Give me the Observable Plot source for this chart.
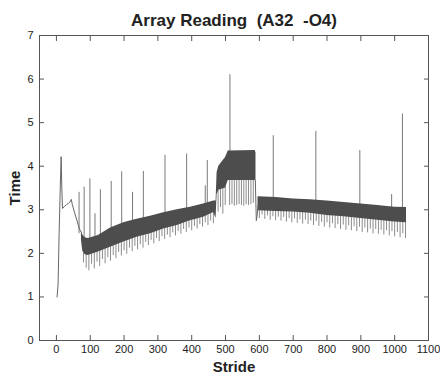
<!DOCTYPE html>
<html><head><meta charset="utf-8">
<script src="https://cdn.jsdelivr.net/npm/d3@7"></script>
<script src="https://cdn.jsdelivr.net/npm/@observablehq/plot@0.6"></script>
<style>body{margin:0;background:#fff}</style>
</head><body><div id="chart"></div>
<script>
const titleText = "Array Reading  (A32  -O4)";
const xLabel = "Stride";
const yLabel = "Time";
const xTicks = [0,100,200,300,400,500,600,700,800,900,1000,1100];
const yTicks = [0,1,2,3,4,5,6,7];

// dense band (envelope of the oscillating trace)
const bandX      = [74, 78, 85, 94, 124, 160, 199, 238, 278, 317, 357, 396, 435, 465, 472, 475, 480, 500, 508, 588, 590];
const bandTop    = [2.50,2.42,2.36,2.34,2.41,2.58,2.70,2.78,2.85,2.93,3.00,3.06,3.13,3.20,3.20,3.85,4.00,4.20,4.35,4.36,4.30];
const bandBottom = [2.30,2.05,1.97,1.95,2.03,2.14,2.26,2.37,2.45,2.56,2.64,2.75,2.83,2.94,2.80,3.35,3.45,3.50,3.67,3.67,3.60];
const band2X      = [596, 650, 700, 750, 800, 850, 900, 950, 1000, 1035];
const band2Top    = [3.30,3.28,3.25,3.23,3.20,3.17,3.13,3.10,3.06,3.05];
const band2Bottom = [2.98,2.96,2.95,2.92,2.87,2.84,2.80,2.76,2.72,2.70];

// start of the trace and the drop after the plateau
const startX = [2, 5, 8, 11, 14, 16, 18, 24, 30, 36, 40, 44, 47, 55, 62, 68, 74];
const startY = [1.0,1.3,2.45,3.4,4.22,3.5,3.03,3.08,3.12,3.15,3.18,3.24,3.12,2.9,2.72,2.56,2.48];
const dropX = [588, 591, 593, 596];
const dropY = [3.67, 2.75, 2.85, 3.10];

// downward teeth
const toothX = [80,88,96,104,112,120,128,136,144,152,160,168,176,184,192,200,208,216,224,232,240,248,256,264,272,280,288,296,304,312,320,328,336,344,352,360,368,376,384,392,400,408,416,424,432,440,448,456,464,
  478,485,492,499,512,519,526,533,540,547,554,561,568,575,582,
  600,608,616,624,632,640,648,656,664,672,680,688,696,704,712,720,728,736,744,752,760,768,776,784,792,800,808,816,824,832,840,848,856,864,872,880,888,896,904,912,920,928,936,944,952,960,968,976,984,992,1000,1008,1016,1024,1032];
const toothLow = [1.78,1.66,1.60,1.75,1.64,1.80,1.70,1.86,1.76,1.90,1.82,1.95,1.88,2.02,1.94,2.06,1.98,2.12,2.04,2.16,2.08,2.20,2.12,2.25,2.18,2.30,2.22,2.34,2.27,2.38,2.32,2.42,2.36,2.47,2.40,2.50,2.44,2.55,2.48,2.58,2.52,2.62,2.56,2.66,2.60,2.70,2.64,2.74,2.68,
  2.95,3.05,2.90,3.10,3.10,3.12,3.08,3.10,3.12,3.10,3.08,3.12,3.10,3.12,3.15,
  2.80,2.88,2.78,2.86,2.76,2.84,2.75,2.83,2.74,2.82,2.72,2.80,2.70,2.79,2.69,2.77,2.67,2.76,2.66,2.74,2.64,2.73,2.62,2.71,2.60,2.70,2.58,2.68,2.57,2.66,2.55,2.65,2.53,2.63,2.52,2.61,2.50,2.60,2.48,2.58,2.47,2.56,2.45,2.55,2.44,2.53,2.42,2.52,2.40,2.50,2.38,2.48,2.36,2.45,2.34];

// upward spikes
const spikeX   = [67, 82, 99, 114, 130, 162, 193, 225, 257, 321, 385, 440, 446, 513, 641, 767, 897, 991, 1023];
const spikeTop = [3.40,3.52,3.71,2.91,3.46,3.65,3.87,3.40,3.88,4.25,4.28,3.55,4.13,6.10,4.70,4.80,4.36,3.35,5.20];

// tables built from the arrays
const band = bandX.map((x, i) => ({x, top: bandTop[i], bottom: bandBottom[i]}));
const band2 = band2X.map((x, i) => ({x, top: band2Top[i], bottom: band2Bottom[i]}));
const allBand = band.concat(band2);
function edgeAt(x, key) {
  const xs = allBand.map(d => d.x);
  const i = Math.max(1, Math.min(xs.length - 1, d3.bisectLeft(xs, x)));
  const a = allBand[i - 1], b = allBand[i];
  const t = b.x === a.x ? 0 : (x - a.x) / (b.x - a.x);
  return a[key] + Math.max(0, Math.min(1, t)) * (b[key] - a[key]);
}
const teeth = toothX.map((x, i) => ({x, low: toothLow[i], base: edgeAt(x, "bottom") + 0.05}));
const spikes = spikeX.map((x, i) => ({x, top: spikeTop[i], base: edgeAt(x, "top") - 0.05}));
const start = startX.map((x, i) => ({x, y: startY[i]}));
const drop = dropX.map((x, i) => ({x, y: dropY[i]}));
const fmt = d3.format("d");

const chart = Plot.plot({
  width: 440, height: 376,
  marginLeft: 39, marginRight: 12, marginTop: 35, marginBottom: 36,
  x: {domain: [-50, 1100]},
  y: {domain: [0, 7]},
  style: {fontFamily: "'Liberation Sans', Arial, sans-serif", fontSize: "11px", color: "#222", background: "#fff"},
  marks: [
    Plot.ruleX(teeth, {x: "x", y1: "low", y2: "base", stroke: "#8c8c8c", strokeWidth: 1}),
    Plot.ruleX(spikes, {x: "x", y1: "base", y2: "top", stroke: "#7a7a7a", strokeWidth: 1}),
    Plot.areaY(band, {x: "x", y1: "bottom", y2: "top", fill: "#4d4d4d"}),
    Plot.areaY(band2, {x: "x", y1: "bottom", y2: "top", fill: "#4d4d4d"}),
    Plot.line(start, {x: "x", y: "y", stroke: "#666", strokeWidth: 1}),
    Plot.line(drop, {x: "x", y: "y", stroke: "#666", strokeWidth: 1}),
    Plot.frame({stroke: "#555"}),
    Plot.axisX({ticks: xTicks, anchor: "bottom", tickSize: -5, tickPadding: 10, tickFormat: fmt, label: null, stroke: "#555"}),
    Plot.axisX({ticks: xTicks, anchor: "top", tickSize: -5, tickFormat: () => "", label: null, stroke: "#555"}),
    Plot.axisY({ticks: yTicks, anchor: "left", tickSize: -5, tickPadding: 11, tickFormat: fmt, label: null, stroke: "#555"}),
    Plot.axisY({ticks: yTicks, anchor: "right", tickSize: -5, tickFormat: () => "", label: null, stroke: "#555"}),
    Plot.text([titleText], {frameAnchor: "top", dy: -15, lineAnchor: "middle", fontSize: 17, fontWeight: "bold", fill: "#222"}),
    Plot.text([xLabel], {frameAnchor: "bottom", dy: 27, lineAnchor: "middle", fontSize: 15, fontWeight: "bold", fill: "#222"}),
    Plot.text([yLabel], {frameAnchor: "left", dx: -24, rotate: -90, textAnchor: "middle", lineAnchor: "middle", fontSize: 15, fontWeight: "bold", fill: "#222"})
  ]
});
document.getElementById("chart").append(chart);
</script>
</body></html>
